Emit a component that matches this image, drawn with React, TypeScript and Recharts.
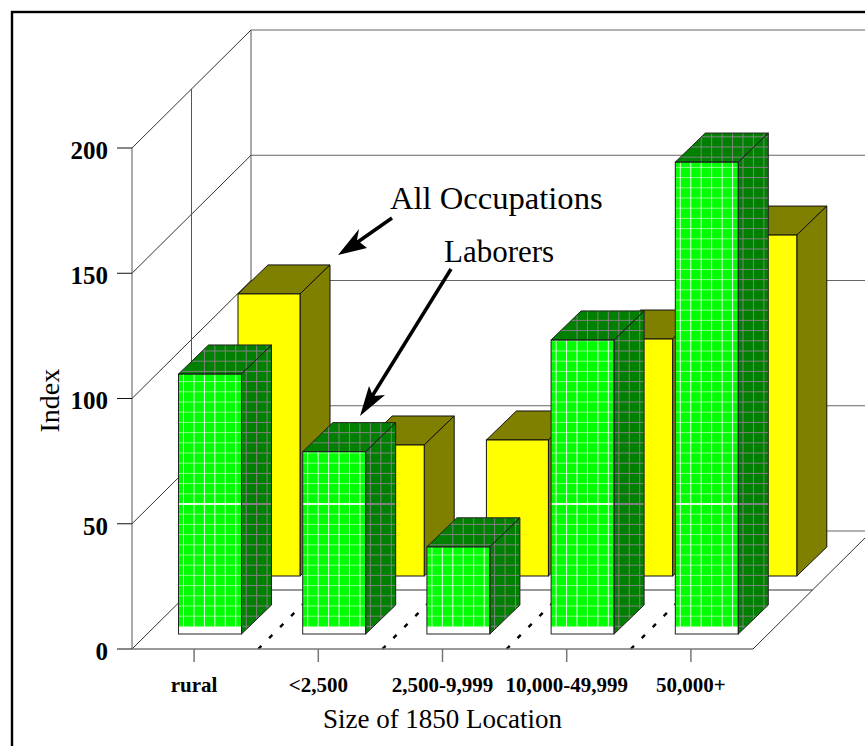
import React from 'react';
import { BarChart, Bar, XAxis, YAxis, Customized } from 'recharts';

const categories = ['rural', '<2,500', '2,500-9,999', '10,000-49,999', '50,000+'];
const laborers = [103.8, 72.8, 34.8, 117.4, 188.4];
const allOccupations = [112.6, 52.3, 54.3, 94.6, 136.1];
const valueTicks = [0, 50, 100, 150, 200];

const chartData = categories.map((name, i) => ({
  name,
  laborers: laborers[i],
  allOccupations: allOccupations[i],
}));

const WIDTH = 865;
const HEIGHT = 746;
const LEFT = 132;
const RIGHT = 753;
const TOP = 148;
const BOTTOM = 649;
const DEPTH_X = 119;
const DEPTH_Y = 118;
const BAR_WIDTH = 63;
const BAR_DEPTH = 30;
const SERIF = '"Liberation Serif", serif';

const valueY = (v: number) => BOTTOM - ((BOTTOM - TOP) * v) / 200;

function Walls() {
  const band = (RIGHT - LEFT) / categories.length;
  return (
    <g stroke="#555" strokeWidth={1} fill="none">
      {valueTicks.map((v) => (
        <g key={v}>
          <line x1={LEFT} y1={valueY(v)} x2={LEFT + DEPTH_X} y2={valueY(v) - DEPTH_Y} stroke="#333" />
          <line x1={LEFT + DEPTH_X} y1={valueY(v) - DEPTH_Y} x2={WIDTH} y2={valueY(v) - DEPTH_Y} stroke="#666" strokeWidth={1.2} />
        </g>
      ))}
      <line x1={LEFT + DEPTH_X} y1={valueY(200) - DEPTH_Y} x2={LEFT + DEPTH_X} y2={valueY(0) - DEPTH_Y} />
      <line x1={LEFT + DEPTH_X / 2} y1={valueY(200) - DEPTH_Y / 2} x2={LEFT + DEPTH_X / 2} y2={valueY(0) - DEPTH_Y / 2} />
      <line x1={LEFT + DEPTH_X / 2} y1={valueY(0) - DEPTH_Y / 2} x2={RIGHT + DEPTH_X / 2} y2={valueY(0) - DEPTH_Y / 2} stroke="#777" strokeWidth={1.5} />
      <line x1={RIGHT} y1={BOTTOM} x2={RIGHT + DEPTH_X} y2={BOTTOM - DEPTH_Y} stroke="#333" />
      <line x1={LEFT} y1={TOP} x2={LEFT} y2={BOTTOM} />
      {categories.slice(1).map((c, i) => {
        const x = LEFT + band * (i + 1) + 2;
        return (
          <line
            key={c}
            x1={x}
            y1={BOTTOM}
            x2={x + 45}
            y2={BOTTOM - 45}
            stroke="#000"
            strokeWidth={2.4}
            strokeDasharray="4.5 11"
          />
        );
      })}
    </g>
  );
}

function YellowBar(props: any) {
  const { x, y, width, height } = props;
  const l = x + width / 2 - BAR_WIDTH / 2 + 75;
  const r = l + BAR_WIDTH - 1;
  const t = y - 73;
  const b = y + height - 73;
  return (
    <g stroke="#111" strokeWidth={1}>
      <polygon points={`${l},${t} ${l + BAR_DEPTH},${t - 29} ${r + BAR_DEPTH},${t - 29} ${r},${t}`} fill="#808000" />
      <polygon points={`${r},${t} ${r + BAR_DEPTH},${t - 29} ${r + BAR_DEPTH},${b - 29} ${r},${b}`} fill="#808000" />
      <rect x={l} y={t} width={r - l} height={b - t} fill="#ffff00" />
    </g>
  );
}

function GreenBar(props: any) {
  const { x, y, width, height, index } = props;
  const l = x + width / 2 - BAR_WIDTH / 2 + 15.5;
  const r = l + BAR_WIDTH;
  const t = y - 15;
  const b = y + height - 15;
  const greenBottom = b - 7;

  const rows: number[] = [];
  for (let k = -40; k < 20; k++) rows.push(504 + k * 10.2);
  const cols: number[] = [];
  for (let k = 0; k < 10; k++) cols.push(l + 5 + k * 10.45);

  const topPts = `${l},${t} ${l + BAR_DEPTH},${t - 29} ${r + BAR_DEPTH},${t - 29} ${r},${t}`;
  const sidePts = `${r},${t} ${r + BAR_DEPTH},${t - 29} ${r + BAR_DEPTH},${b - 29} ${r},${b}`;

  return (
    <g>
      <clipPath id={`front-${index}`}>
        <rect x={l} y={t} width={BAR_WIDTH} height={greenBottom - t} />
      </clipPath>
      <clipPath id={`side-${index}`}>
        <polygon points={topPts} />
        <polygon points={sidePts} />
      </clipPath>
      <rect x={l} y={t} width={BAR_WIDTH} height={b - t} fill="#fff" />
      <rect x={l} y={t} width={BAR_WIDTH} height={greenBottom - t} fill="#00ff00" />
      <polygon points={topPts} fill="#008000" />
      <polygon points={sidePts} fill="#008000" />
      <g clipPath={`url(#front-${index})`} stroke="#e4ffe4" strokeWidth={1}>
        {cols.slice(0, 6).map((c) => (
          <line key={c} x1={c} y1={t} x2={c} y2={b} />
        ))}
        {rows.map((ry) => (
          <line
            key={ry}
            x1={l}
            y1={ry}
            x2={r}
            y2={ry}
            strokeWidth={ry === 504 ? 2 : 1}
            strokeOpacity={ry === 504 ? 1 : 0.6}
          />
        ))}
      </g>
      <g clipPath={`url(#side-${index})`} stroke="#808080" strokeWidth={1}>
        {cols.slice(2).map((c) => (
          <line key={c} x1={c} y1={t - 30} x2={c} y2={b} />
        ))}
        {rows.map((ry) => (
          <line key={ry} x1={l} y1={ry} x2={r + BAR_DEPTH} y2={ry} strokeWidth={ry === 504 ? 2 : 1} />
        ))}
      </g>
      <g fill="none" stroke="#222" strokeWidth={1}>
        <polygon points={topPts} />
        <polygon points={sidePts} />
        <rect x={l} y={t} width={BAR_WIDTH} height={b - t} />
      </g>
    </g>
  );
}

function Annotations() {
  return (
    <g>
      <rect x={12} y={12} width={1000} height={1000} fill="none" stroke="#000" strokeWidth={2.4} />
      <text x={390} y={209} fontFamily={SERIF} fontSize={32.6} fill="#000">All Occupations</text>
      <text x={444} y={262} fontFamily={SERIF} fontSize={31} fill="#000">Laborers</text>
      <line x1={392} y1={218} x2={352} y2={246} stroke="#000" strokeWidth={3.5} />
      <polygon points="338,255 359,229 357,240 367,248" fill="#000" />
      <line x1={451} y1={269} x2={371} y2={398} stroke="#000" strokeWidth={3.5} />
      <polygon points="360,416 369,386 373,396 385,395" fill="#000" />
    </g>
  );
}

export default function App() {
  return (
    <div style={{ position: 'absolute', left: 0, top: 0, width: WIDTH, height: HEIGHT, overflow: 'hidden', background: '#fff' }}>
      <BarChart
        width={WIDTH}
        height={HEIGHT}
        data={chartData}
        barSize={BAR_WIDTH}
        barGap={-BAR_WIDTH}
        margin={{ top: TOP, right: WIDTH - RIGHT, bottom: 0, left: 0 }}
      >
        <Customized component={Walls} />
        <XAxis
          dataKey="name"
          height={HEIGHT - BOTTOM}
          interval={0}
          axisLine={{ stroke: '#777', strokeWidth: 1.5 }}
          tickLine={{ stroke: '#777', strokeWidth: 1.5 }}
          tickSize={13}
          tickMargin={15}
          tick={{ fontFamily: SERIF, fontSize: 21, fontWeight: 700, fill: '#000' }}
          label={{ value: 'Size of 1850 Location', position: 'insideBottom', offset: 18, fontFamily: SERIF, fontSize: 27, fill: '#000' }}
        />
        <YAxis
          width={LEFT}
          domain={[0, 200]}
          ticks={valueTicks}
          interval={0}
          axisLine={false}
          tickLine={{ stroke: '#111', strokeWidth: 1 }}
          tickSize={15}
          tickMargin={9}
          tick={{ fontFamily: SERIF, fontSize: 25, fontWeight: 700, fill: '#000', dy: 2 }}
          label={{ value: 'Index', angle: -90, position: 'insideLeft', offset: 49, dy: 34, fontFamily: SERIF, fontSize: 28, fill: '#000' }}
        />
        <Bar dataKey="allOccupations" isAnimationActive={false} shape={YellowBar} />
        <Bar dataKey="laborers" isAnimationActive={false} shape={GreenBar} />
        <Customized component={Annotations} />
      </BarChart>
    </div>
  );
}
